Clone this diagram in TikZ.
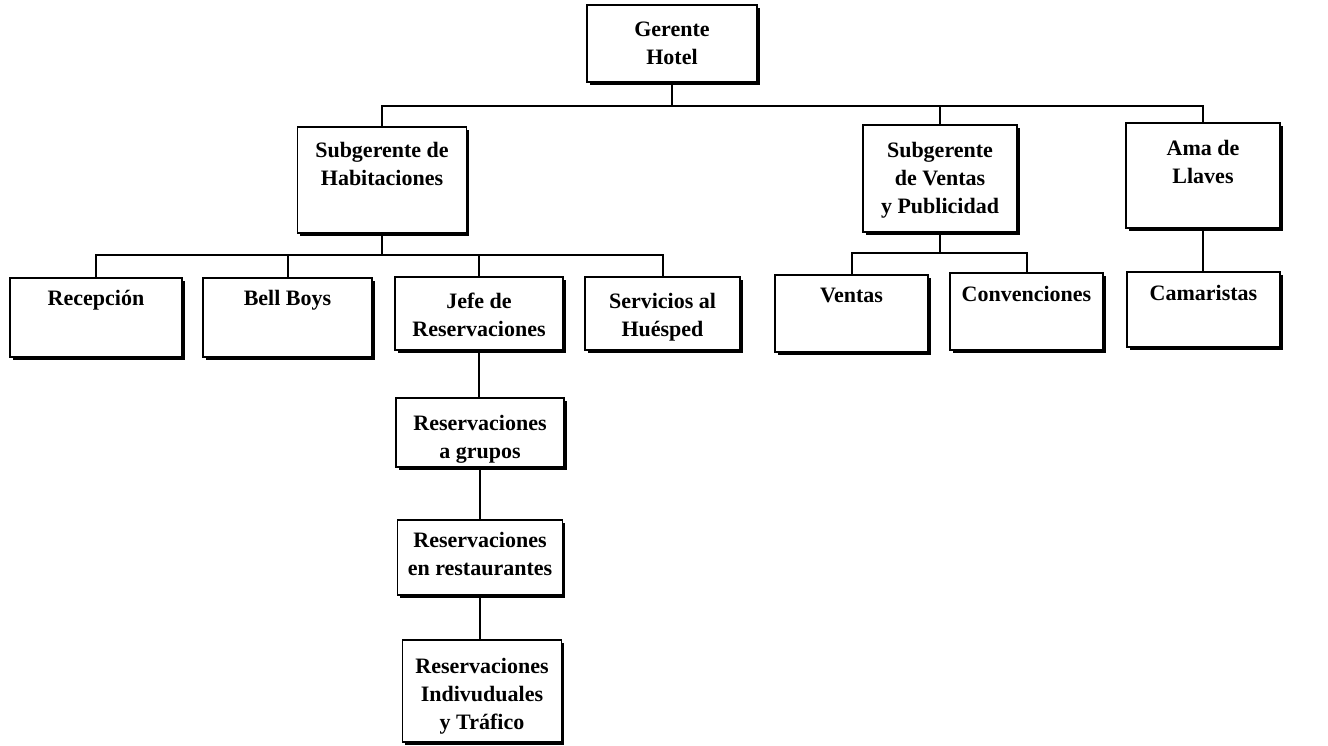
\documentclass[tikz,border=0pt]{standalone}
\usepackage{fontspec}
\setmainfont{Liberation Serif}
\usetikzlibrary{shadows}

% \orgtext{top gap}{width}{height}{text}: a fixed-size box with its text set from the top
\newcommand\orgtext[4]{\parbox[c][#3pt][t]{#2pt}{\centering\vspace*{#1pt}\rule{0pt}{14.6pt}#4}}

\tikzset{
  unit/.style={draw, line width=1.8pt, fill=white, inner sep=0pt,
    font=\fontsize{22}{28}\selectfont\bfseries,
    drop shadow={shadow xshift=2.5pt, shadow yshift=-2.5pt, fill=black, opacity=1}},
  link/.style={line width=2pt}
}

\begin{document}
\begin{tikzpicture}[x=1pt, y=-1pt]
\useasboundingbox (0,0) rectangle (1328,745);

% top level
\node[unit] (g) at (672,43.5) {\orgtext{17}{170}{77}{Gerente\\Hotel}};

% second level
\node[unit] (sh) at (382,180) {\orgtext{15}{169}{106}{Subgerente de\\Habitaciones}};
\node[unit] (sv) at (940,178.5) {\orgtext{17}{154}{107}{Subgerente\\de Ventas\\y Publicidad}};
\node[unit] (al) at (1203,175.5) {\orgtext{17}{154}{105}{Ama de\\Llaves}};

% rooms division
\node[unit] (rec)  at (96,317.5)   {\orgtext{12}{172}{79}{Recepción}};
\node[unit] (bb)   at (287.5,317.5) {\orgtext{12}{169}{79}{Bell Boys}};
\node[unit] (jefe) at (479,313.5)  {\orgtext{16}{168}{73}{Jefe de\\Reservaciones}};
\node[unit] (serv) at (662.5,313.5) {\orgtext{16}{155}{73}{Servicios al\\Huésped}};

% sales division
\node[unit] (ven)  at (851.5,313.5)  {\orgtext{13}{153}{77}{Ventas}};
\node[unit] (conv) at (1026.5,311.5) {\orgtext{13}{153}{77}{Convenciones}};

% housekeeping
\node[unit] (cam)  at (1203.5,309.5) {\orgtext{13}{153}{75}{Camaristas}};

% reservations chain
\node[unit] (rg) at (480,432.5) {\orgtext{17}{168}{69}{Reservaciones\\a grupos}};
\node[unit] (rr) at (480,557.5) {\orgtext{12}{165}{75}{Reservaciones\\en restaurantes}};
\node[unit] (ri) at (482,691)   {\orgtext{18}{159}{102}{Reservaciones\\Indivuduales\\y Tráfico}};

% bus lines
\coordinate (bus1) at (0,106);
\coordinate (bus2) at (0,255);
\coordinate (bus3) at (0,253);

\draw[link] (g.south) -- (g.south |- bus1);
\draw[link] (sh.north) -- (sh.north |- bus1) -- (al.north |- bus1) -- (al.north);
\draw[link] (sv.north) -- (sv.north |- bus1);

\draw[link] (sh.south) -- (sh.south |- bus2);
\draw[link] (rec.north) -- (rec.north |- bus2) -- (serv.north |- bus2) -- (serv.north);
\draw[link] (bb.north) -- (bb.north |- bus2);
\draw[link] (jefe.north) -- (jefe.north |- bus2);

\draw[link] (sv.south) -- (sv.south |- bus3);
\draw[link] (ven.north) -- (ven.north |- bus3) -- (conv.north |- bus3) -- (conv.north);

\draw[link] (al.south) -- (al.south |- cam.north);

\draw[link] (jefe.south) -- (jefe.south |- rg.north);
\draw[link] (rg.south) -- (rg.south |- rr.north);
\draw[link] (rr.south) -- (rr.south |- ri.north);
\end{tikzpicture}
\end{document}
